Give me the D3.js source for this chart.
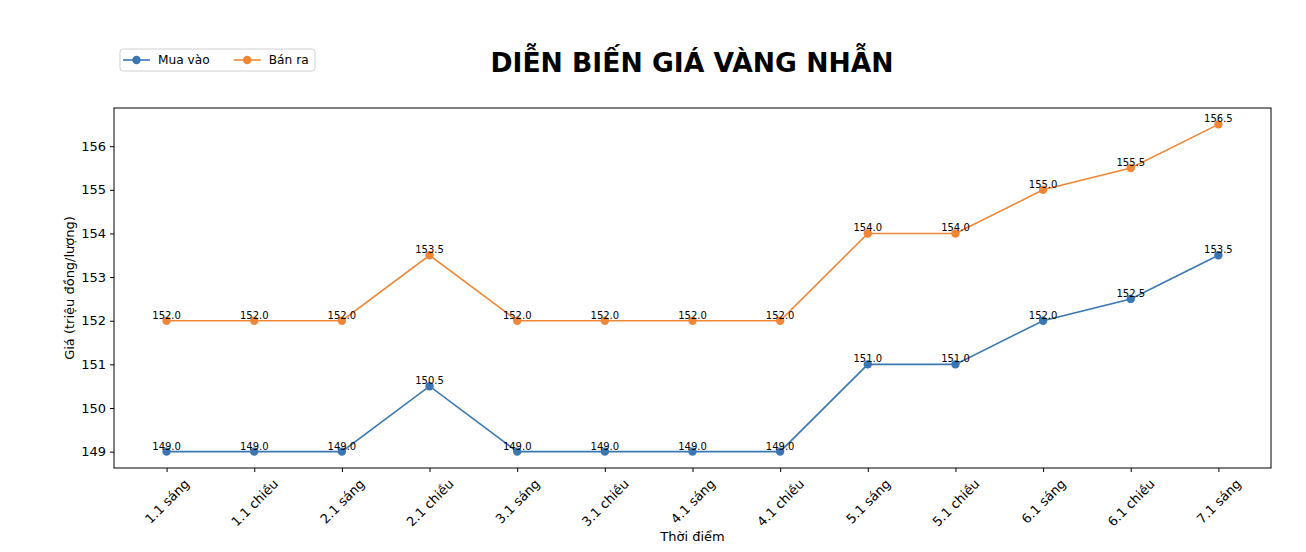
<!DOCTYPE html>
<html>
<head>
<meta charset="utf-8">
<script src="https://cdn.jsdelivr.net/npm/d3@7"></script>
<style>
    body { margin: 0; background: #fff; }
    text { font-family: "DejaVu Sans", sans-serif; fill: #000; }
</style>
</head>
<body>
<svg id="chart" width="1306" height="552"></svg>
<script>
const timeLabels = ["1.1 sáng", "1.1 chiều", "2.1 sáng", "2.1 chiều", "3.1 sáng", "3.1 chiều",
    "4.1 sáng", "4.1 chiều", "5.1 sáng", "5.1 chiều", "6.1 sáng", "6.1 chiều", "7.1 sáng"];
const buyPrices = [149, 149, 149, 150.5, 149, 149, 149, 149, 151, 151, 152, 152.5, 153.5];
const sellPrices = [152, 152, 152, 153.5, 152, 152, 152, 152, 154, 154, 155, 155.5, 156.5];
const yTicks = [149, 150, 151, 152, 153, 154, 155, 156];

const series = [
    { name: "Mua vào", values: buyPrices, color: "#3a77b2" },
    { name: "Bán ra", values: sellPrices, color: "#f08737" }
];

const svg = d3.select("#chart");
const box = { left: 114, right: 1271, top: 108, bottom: 468 };

// matplotlib style 5% margins
const n = timeLabels.length;
const x = d3.scaleLinear()
    .domain([-0.6, n - 1 + 0.6])
    .range([box.left, box.right]);
const allVals = buyPrices.concat(sellPrices);
const yMin = d3.min(allVals), yMax = d3.max(allVals);
const pad = (yMax - yMin) * 0.05;
const y = d3.scaleLinear()
    .domain([yMin - pad, yMax + pad])
    .range([box.bottom, box.top]);

// y axis
const yAxis = svg.append("g")
    .attr("transform", `translate(${box.left},0)`)
    .call(d3.axisLeft(y).tickValues(yTicks).tickSize(4).tickPadding(4).tickFormat(d3.format("d")));
yAxis.select(".domain").remove();
yAxis.selectAll("text").style("font-size", "13px").style("font-family", "DejaVu Sans").attr("fill", "#222");

// x axis
const xAxis = svg.append("g")
    .attr("transform", `translate(0,${box.bottom})`)
    .call(d3.axisBottom(x).tickValues(d3.range(n)).tickSize(4).tickFormat(i => timeLabels[i]));
xAxis.select(".domain").remove();
xAxis.selectAll("text")
    .style("font-size", "13px")
    .style("font-family", "DejaVu Sans")
    .attr("fill", "#222")
    .attr("text-anchor", "middle")
    .attr("dy", null)
    .each(function() {
        // rotate 45deg, centre the rotated box under the tick
        const w = this.getComputedTextLength();
        const h = 13;
        const bh = (w + h) * Math.SQRT1_2;
        const cy = 4 + 5 + bh / 2;
        d3.select(this)
            .attr("y", 0)
            .attr("x", 0)
            .attr("dominant-baseline", "central")
            .attr("transform", `translate(0,${cy}) rotate(-45)`);
    });

// frame
svg.append("rect")
    .attr("x", box.left)
    .attr("y", box.top)
    .attr("width", box.right - box.left)
    .attr("height", box.bottom - box.top)
    .attr("fill", "none")
    .attr("stroke", "#000")
    .attr("stroke-width", 1);

const line = d3.line()
    .x((d, i) => x(i))
    .y(d => y(d));

for (let s of series) {
    svg.append("path")
        .datum(s.values)
        .attr("d", line)
        .attr("fill", "none")
        .attr("stroke", s.color)
        .attr("stroke-width", 1.6);

    svg.append("g")
        .selectAll("circle")
        .data(s.values)
        .join("circle")
        .attr("cx", (d, i) => x(i))
        .attr("cy", d => y(d))
        .attr("r", 4.2)
        .attr("fill", s.color);

    svg.append("g")
        .selectAll("text")
        .data(s.values)
        .join("text")
        .attr("x", (d, i) => x(i))
        .attr("y", d => y(d) - 2)
        .attr("text-anchor", "middle")
        .style("font-size", "10px")
        .text(d => d.toFixed(1));
}

// title
svg.append("text")
    .attr("x", 692)
    .attr("y", 72)
    .attr("text-anchor", "middle")
    .style("font-size", "26.6px")
    .style("font-weight", "bold")
    .text("DIỄN BIẾN GIÁ VÀNG NHẪN");

// axis labels
svg.append("text")
    .attr("x", (box.left + box.right) / 2)
    .attr("y", 541)
    .attr("text-anchor", "middle")
    .style("font-size", "13px")
    .attr("fill", "#222")
    .text("Thời điểm");

svg.append("text")
    .attr("transform", `translate(74,${(box.top + box.bottom) / 2}) rotate(-90)`)
    .attr("text-anchor", "middle")
    .style("font-size", "13px")
    .attr("fill", "#222")
    .text("Giá (triệu đồng/lượng)");

// legend
const legend = svg.append("g").attr("transform", "translate(120,49)");
legend.append("rect")
    .attr("width", 195)
    .attr("height", 22)
    .attr("rx", 3)
    .attr("fill", "#fff")
    .attr("stroke", "#d0d0d0");

let lx = 3;
for (let s of series) {
    const item = legend.append("g").attr("transform", `translate(${lx},11)`);
    item.append("line")
        .attr("x1", 0).attr("x2", 27)
        .attr("stroke", s.color)
        .attr("stroke-width", 1.6);
    item.append("circle")
        .attr("cx", 13.5)
        .attr("r", 4.2)
        .attr("fill", s.color);
    const t = item.append("text")
        .attr("x", 35)
        .attr("dy", "0.35em")
        .style("font-size", "12.2px")
        .attr("fill", "#222")
        .text(s.name);
    lx += 35 + t.node().getComputedTextLength() + 24;
}
</script>
</body>
</html>
